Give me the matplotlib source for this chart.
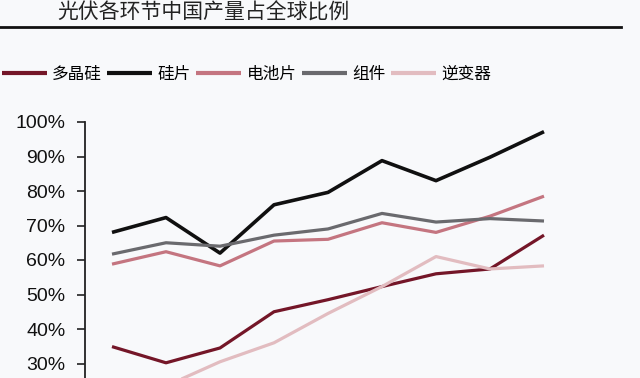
import matplotlib
matplotlib.use("Agg")
import matplotlib.pyplot as plt

plt.rcParams['font.family'] = ['Liberation Sans', 'Noto Sans CJK SC', 'DejaVu Sans']

# 年份位置 (9 个点)
x = list(range(9))

duojinggui = [34.9, 30.2, 34.5, 45.0, 48.5, 52.3, 56.0, 57.4, 67.2]   # 多晶硅
guipian = [68.0, 72.3, 62.0, 76.0, 79.6, 88.8, 83.0, 89.8, 97.2]      # 硅片
dianchipian = [58.8, 62.4, 58.3, 65.5, 66.0, 70.8, 68.0, 72.7, 78.5]  # 电池片
zujian = [61.7, 65.0, 64.0, 67.2, 69.0, 73.5, 71.0, 72.0, 71.3]       # 组件
nibianqi = [19.0, 23.5, 30.5, 36.0, 44.5, 52.3, 61.0, 57.4, 58.3]     # 逆变器

names = ['多晶硅', '硅片', '电池片', '组件', '逆变器']
colors = ['#741628', '#101010', '#c47580', '#6a6a6e', '#e2bcc0']
series = [duojinggui, guipian, dianchipian, zujian, nibianqi]
yticks = [30, 40, 50, 60, 70, 80, 90, 100]

bg = '#f8f9fb'
fig = plt.figure(figsize=(6.4, 3.78), dpi=100, facecolor=bg)

W, H = 640, 378
ax = fig.add_axes([85 / W, 0, 535 / W, (378 - 122) / H])
ax.set_facecolor(bg)

lines = []
for vals, c, n in zip(series, colors, names):
    lw = 2.6 if n == '硅片' else 2.3
    ln, = ax.plot(x, vals, color=c, lw=lw, label=n, solid_capstyle='butt')
    lines.append(ln)

# 像素映射: x=0 -> 112px, 每点 54px
ax.set_xlim(-(112 - 85) / 54, (620 - 112) / 54)
ax.set_ylim(100 - (378 - 122) / 3.45, 100)

ax.set_yticks(yticks)
ax.set_yticklabels([f'{v}%' for v in yticks], fontsize=14, color='#111')
ax.tick_params(axis='y', length=6, width=1.2, color='#222', pad=8)
ax.set_xticks([])
for s in ['top', 'right', 'bottom']:
    ax.spines[s].set_visible(False)
ax.spines['left'].set_linewidth(1.3)
ax.spines['left'].set_color('#222')

# 标题和横线
fig.text(57 / W, 1 - 13 / H, '光伏各环节中国产量占全球比例', fontsize=15,
         family=['Noto Sans CJK SC'], va='center', ha='left', color='#222')
fig.add_artist(plt.Line2D([0, 621 / W], [1 - 26.5 / H, 1 - 26.5 / H],
                          color='#111', lw=2))

leg = fig.legend(handles=lines, loc='center left',
                 bbox_to_anchor=(-5 / W, 1 - 74.5 / H), ncol=5, frameon=False,
                 prop={'family': 'Noto Sans CJK SC', 'size': 12},
                 handlelength=2.7, handletextpad=0.3, columnspacing=0.35,
                 borderaxespad=0)
for lh in leg.get_lines():
    lh.set_linewidth(3)

fig.savefig('out.png', dpi=100, facecolor=bg)
